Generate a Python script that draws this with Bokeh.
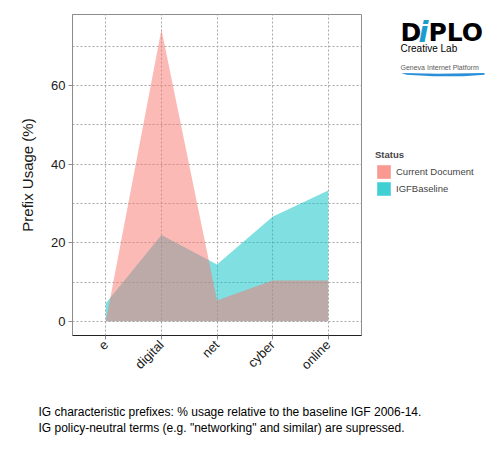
from math import pi, nan

from bokeh.plotting import figure
from bokeh.layouts import row, column
from bokeh.core.properties import value
from bokeh.models import (Range1d, FixedTicker, Legend, LegendItem,
                          PolyAnnotation, ColumnDataSource)
from bokeh.embed import file_html
from bokeh.resources import INLINE

# data
prefixes = ["e", "digital", "net", "cyber", "online"]
positions = [1, 2, 3, 4, 5]
current_document = [0.0, 74.3, 5.3, 10.4, 10.4]
igf_baseline = [4.6, 22.0, 14.5, 26.6, 33.3]

y_ticks = [0, 20, 40, 60]
y_minor = [10, 30, 50, 70]

caption = [
    "IG characteristic prefixes: % usage relative to the baseline IGF 2006-14.",
    'IG policy-neutral terms (e.g. "networking" and similar) are supressed.',
]

RED = "#F8766D"
TEAL = "#00BFC4"
FONT = "Liberation Sans"

# ---- main chart ----
p = figure(width=365, height=395, output_backend="svg", toolbar_location=None,
           x_range=Range1d(0.4, 5.6), y_range=Range1d(-3.6, 78.1),
           min_border_left=72, min_border_top=14, min_border_right=4,
           min_border_bottom=60)

src = ColumnDataSource(data=dict(x=positions, cur=current_document, base=igf_baseline))

# baseline first so the current document area sits on top (greyish overlap)
p.varea(x="x", y1=0, y2="base", source=src, fill_color=TEAL, fill_alpha=0.5)
p.varea(x="x", y1=0, y2="cur", source=src, fill_color=RED, fill_alpha=0.5)

p.xaxis.ticker = FixedTicker(ticks=positions)
p.xaxis.major_label_overrides = {pos: name for pos, name in zip(positions, prefixes)}
p.xaxis.major_label_orientation = pi / 4
p.yaxis.ticker = FixedTicker(ticks=y_ticks, minor_ticks=y_minor)
p.yaxis.axis_label = "Prefix Usage (%)"

for ax in (p.xaxis[0], p.yaxis[0]):
    ax.major_label_text_font = FONT
    ax.major_label_text_font_size = "13px"
    ax.major_label_text_color = "#1a1a1a"
    ax.major_tick_line_color = "#8c8c8c"
    ax.major_tick_in = 0
    ax.major_tick_out = 4
    ax.minor_tick_line_color = None
    ax.major_label_standoff = 3
p.xaxis.axis_line_color = "#222222"
p.yaxis.axis_line_color = "#8c8c8c"
p.yaxis.axis_label_text_font = FONT
p.yaxis.axis_label_text_font_size = "15px"
p.yaxis.axis_label_text_font_style = "normal"
p.yaxis.axis_label_text_color = "#1a1a1a"
p.yaxis.axis_label_standoff = 12

p.xgrid.ticker = FixedTicker(ticks=positions)
for g in (p.xgrid[0], p.ygrid[0]):
    g.grid_line_color = "#a6a6a6"
    g.grid_line_dash = "2 2"
p.ygrid.minor_grid_line_color = "#a6a6a6"
p.ygrid.minor_grid_line_dash = "2 2"

p.outline_line_color = "#8c8c8c"
p.outline_line_alpha = 1

# ---- right column: logo and legend (coordinates ~ page pixels) ----
side = figure(width=125, height=395, output_backend="svg", toolbar_location=None,
              x_range=Range1d(365, 490), y_range=Range1d(395, 0),
              x_axis_type=None, y_axis_type=None, min_border=0)
side.grid.visible = False
side.outline_line_color = None


def note(fig, x, y, text, font=FONT, size="11px", color="black", style="normal"):
    fig.text(x=[x], y=[y], text=[text], text_font=value(font), text_font_size=size,
             text_color=color, text_font_style=style, text_baseline="alphabetic",
             text_align="left")


note(side, 400, 22, "D", font="DejaVu Sans", size="25px", style="bold")
note(side, 418, 22, "i", font="DejaVu Sans", size="29px", style="bold italic",
     color="#1c9ccc")
note(side, 428, 22, "PLO", font="DejaVu Sans", size="25px", style="bold")
note(side, 400, 42, "Creative Lab", size="10px")
note(side, 400, 65, "Geneva Internet Platform", size="7px", color="#5a5a5a")
side.add_layout(PolyAnnotation(xs=[401, 438, 484, 484, 463, 433, 406],
                               ys=[72, 73, 72, 74, 76, 76, 74],
                               fill_color="#2a8fd8", fill_alpha=1, line_color=None))

# legend keys: one NaN row so the key is drawn but nothing shows in the panel
k_cur = side.quad(left=[nan], right=[nan], top=[nan], bottom=[nan],
                  fill_color=RED, fill_alpha=0.75, line_color=None)
k_base = side.quad(left=[nan], right=[nan], top=[nan], bottom=[nan],
                   fill_color=TEAL, fill_alpha=0.75, line_color=None)
legend = Legend(items=[LegendItem(label="Current Document", renderers=[k_cur]),
                       LegendItem(label="IGFBaseline", renderers=[k_base])],
                location=(10, 138), title="Status",
                title_text_font=FONT, title_text_font_size="9.5px",
                title_text_font_style="bold", title_standoff=3,
                label_text_font=FONT, label_text_font_size="9.5px",
                label_standoff=4, glyph_width=17, glyph_height=17,
                label_height=17, spacing=0, padding=0, margin=0,
                border_line_color=None, background_fill_alpha=0)
side.add_layout(legend)

# ---- caption ----
foot = figure(width=490, height=50, output_backend="svg", toolbar_location=None,
              x_range=Range1d(0, 490), y_range=Range1d(445, 395),
              x_axis_type=None, y_axis_type=None, min_border=0)
foot.grid.visible = False
foot.outline_line_color = None
for i, line in enumerate(caption):
    note(foot, 38, 411.5 + 16 * i, line, size="12px")

layout = column(row(p, side), foot)
open("out.html", "w").write(file_html(layout, INLINE))
